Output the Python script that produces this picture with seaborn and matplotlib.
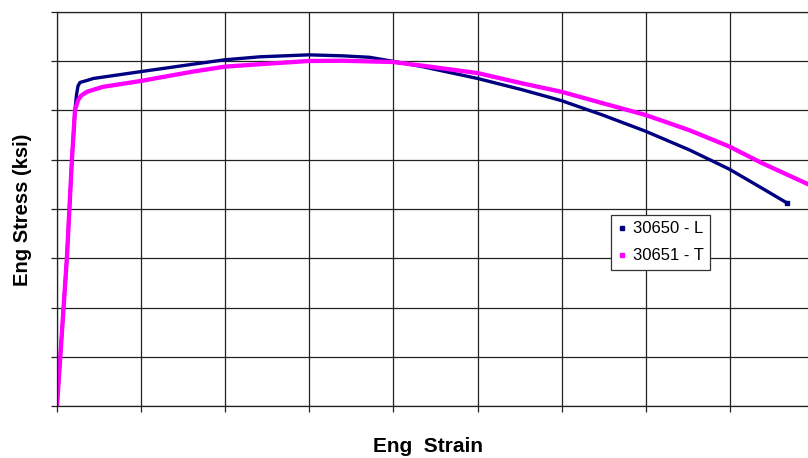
import numpy as np
import pandas as pd
import matplotlib
matplotlib.use("Agg")
import matplotlib.pyplot as plt
from matplotlib.lines import Line2D
import seaborn as sns

# ---- data ----
series_names = ["30650 - L", "30651 - T"]

strain_L = [0, 0.0059, 0.0089, 0.0107, 0.0116, 0.0125, 0.0137, 0.0178, 0.0216,
            0.0499, 0.0809, 0.0998, 0.1206, 0.1496, 0.1698, 0.1859, 0.1995,
            0.2173, 0.2500, 0.2767, 0.2999, 0.3242, 0.3498, 0.3759, 0.3996,
            0.4192, 0.4341]
stress_L = [0, 30.2, 50.2, 60.1, 63.2, 65.0, 65.7, 66.1, 66.5,
            67.9, 69.4, 70.3, 70.9, 71.3, 71.1, 70.8, 70.0,
            68.9, 66.5, 64.2, 62.0, 59.1, 55.8, 52.0, 48.1,
            44.2, 41.2]

strain_T = [0, 0.0059, 0.0089, 0.0107, 0.0125, 0.0143, 0.0178, 0.0273, 0.0499,
            0.0808, 0.0998, 0.1206, 0.1496, 0.1698, 0.1995, 0.2173, 0.2500,
            0.2767, 0.2999, 0.3242, 0.3498, 0.3759, 0.3996, 0.4192, 0.4454,
            0.4495]
stress_T = [0, 30.2, 50.2, 60.1, 62.1, 63.0, 63.8, 64.8, 66.0,
            67.9, 68.9, 69.4, 70.05, 70.1, 69.85, 69.1, 67.6,
            65.5, 63.8, 61.5, 59.1, 56.0, 52.7, 49.3, 45.2,
            44.6]

x_ticks = [0, 0.05, 0.10, 0.15, 0.20, 0.25, 0.30, 0.35, 0.40, 0.45]
y_ticks = [0, 10, 20, 30, 40, 50, 60, 70, 80]

colors = {"30650 - L": "#000080", "30651 - T": "#FF00FF"}

df = pd.concat([
    pd.DataFrame({"strain": strain_L, "stress": stress_L, "series": series_names[0]}),
    pd.DataFrame({"strain": strain_T, "stress": stress_T, "series": series_names[1]}),
], ignore_index=True)

sns.set_style("white")
plt.rcParams["font.family"] = ["Liberation Sans", "DejaVu Sans"]
plt.rcParams["text.color"] = "black"

fig = plt.figure(figsize=(8.08, 4.58), dpi=100)
W, H = 808, 458
ax = fig.add_axes([57 / W, (H - 406) / H, (814 - 57) / W, (406 - 12) / H])

sns.lineplot(data=df, x="strain", y="stress", hue="series", palette=colors,
             hue_order=series_names, sort=False, estimator=None, ax=ax,
             legend=False)
widths = [2.4, 3.1]
for line, lw in zip(ax.lines, widths):
    line.set_linewidth(lw)
    line.set_solid_capstyle("butt")
    line.set_solid_joinstyle("round")
# end marker on navy
ax.plot([strain_L[-1]], [stress_L[-1]], marker="s", ms=3, color=colors["30650 - L"], lw=0)

ax.set_xlim(x_ticks[0], x_ticks[-1])
ax.set_ylim(y_ticks[0], y_ticks[-1])
ax.set_xticks(x_ticks)
ax.set_yticks(y_ticks)
ax.set_xticklabels([])
ax.set_yticklabels([])
ax.tick_params(axis="both", direction="out", length=4, width=0.9, color="#222222",
               bottom=True, left=True)
ax.grid(True, color="#222222", linewidth=0.9)
ax.set_axisbelow(True)
for side in ["left", "bottom", "top"]:
    ax.spines[side].set_visible(True)
    ax.spines[side].set_color("#222222")
    ax.spines[side].set_linewidth(0.9)
ax.spines["right"].set_visible(False)

ax.set_xlabel("")
ax.set_ylabel("")
fig.text(23 / W, 1 - 210 / H, "Eng Stress (ksi)", rotation=90, ha="center", va="center",
         fontsize=14.5, fontweight="bold", color="black")
fig.text(428 / W, 1 - 452 / H, "Eng  Strain", ha="center", va="baseline",
         fontsize=15, fontweight="bold", color="black")

handles = [
    Line2D([], [], marker="s", ms=2.5, lw=0, color=colors["30650 - L"]),
    Line2D([], [], marker="s", ms=3.2, lw=0, color=colors["30651 - T"]),
]
leg = fig.legend(handles, series_names, loc="upper left",
                 bbox_to_anchor=(611 / W, 1 - 215 / H), fontsize=12,
                 frameon=True, fancybox=False, framealpha=1, edgecolor="#333333",
                 handlelength=0.6, handletextpad=0.35, borderpad=0.38,
                 labelspacing=0.72, borderaxespad=0)
leg.get_frame().set_linewidth(0.9)
for t in leg.get_texts():
    t.set_color("black")

fig.savefig("out.png", dpi=100)
